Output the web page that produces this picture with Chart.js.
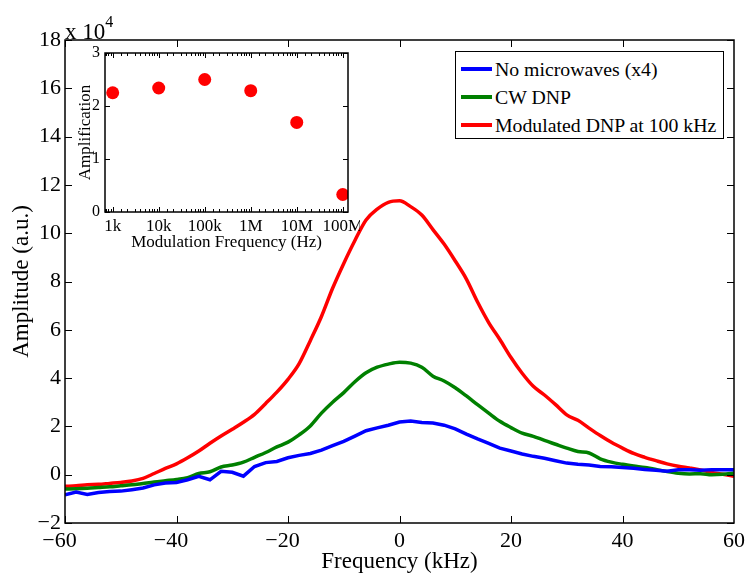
<!DOCTYPE html>
<html>
<head>
<meta charset="utf-8">
<script src="https://cdn.jsdelivr.net/npm/chart.js@4.4.0/dist/chart.umd.min.js"></script>
<style>
  body { margin: 0; background: #fff; }
  #wrap { position: relative; width: 747px; height: 578px; font-family: 'Liberation Serif', serif; }
  #main { position: absolute; left: 0; top: 0; }
  #inset { position: absolute; left: 75px; top: 45px; }
  #scale-note { position: absolute; left: 65px; top: 13px; font-size: 23px; line-height: 23px; color: #000; }
  #scale-note sup { font-size: 16px; position: relative; top: -3px; }
  #legend { position: absolute; left: 455px; top: 51px; width: 267px; height: 86px; border: 1px solid #000; background: #fff; }
  .row { position: absolute; left: 5px; height: 24px; display: flex; align-items: center; font-size: 19.8px; color: #000; white-space: nowrap; }
  .swatch { width: 31px; height: 3.5px; margin-right: 3px; }
</style>
</head>
<body>
<div id="wrap">
  <canvas id="main" width="747" height="578"></canvas>
  <canvas id="inset" width="285" height="210"></canvas>
  <div id="scale-note">x 10<sup>4</sup></div>
  <div id="legend"></div>
</div>
<script>
// main spectrum, amplitude in units of 1e4
const freqKHz = [-60, -58, -56, -54, -52, -50, -48, -46, -44, -42, -40, -38, -36, -34, -32, -30, -28, -26, -24, -22, -20,
  -18, -16, -14, -12, -10, -8, -6, -4, -2, 0, 2, 4, 6, 8, 10, 12, 14, 16, 18, 20,
  22, 24, 26, 28, 30, 32, 34, 36, 38, 40, 42, 44, 46, 48, 50, 52, 54, 56, 58, 60];

const noMicrowaves = [-0.83, -0.72, -0.82, -0.74, -0.70, -0.68, -0.62, -0.55, -0.42, -0.34, -0.32, -0.21, -0.07, -0.21, 0.14, 0.10, -0.06, 0.34, 0.50, 0.55, 0.70,
  0.80, 0.88, 1.02, 1.20, 1.38, 1.60, 1.82, 1.94, 2.05, 2.18, 2.22, 2.16, 2.14, 2.05, 1.90, 1.68, 1.48, 1.30, 1.10, 0.98,
  0.86, 0.76, 0.68, 0.58, 0.48, 0.43, 0.40, 0.34, 0.33, 0.30, 0.27, 0.22, 0.18, 0.14, 0.20, 0.20, 0.18, 0.21, 0.20, 0.21];

const cwDnp = [-0.59, -0.58, -0.56, -0.53, -0.50, -0.46, -0.42, -0.36, -0.30, -0.25, -0.20, -0.12, 0.05, 0.12, 0.32, 0.40, 0.52, 0.72, 0.92, 1.15, 1.35,
  1.65, 2.02, 2.55, 3.00, 3.40, 3.85, 4.22, 4.45, 4.58, 4.66, 4.62, 4.45, 4.08, 3.88, 3.60, 3.26, 2.90, 2.55, 2.21, 1.95,
  1.72, 1.59, 1.42, 1.26, 1.10, 0.96, 0.90, 0.66, 0.52, 0.43, 0.36, 0.30, 0.22, 0.13, 0.06, 0.03, 0.04, 0.00, 0.02, 0.07];

const modulatedDnp = [-0.48, -0.46, -0.42, -0.40, -0.36, -0.32, -0.26, -0.15, 0.05, 0.26, 0.45, 0.70, 0.98, 1.30, 1.60, 1.88, 2.17, 2.50, 2.95, 3.42, 3.95,
  4.60, 5.55, 6.55, 7.72, 8.75, 9.70, 10.55, 11.00, 11.28, 11.34, 11.10, 10.75, 10.15, 9.55, 8.85, 8.10, 7.15, 6.30, 5.60, 4.85,
  4.20, 3.66, 3.30, 2.90, 2.48, 2.25, 1.93, 1.62, 1.34, 1.10, 0.88, 0.72, 0.58, 0.45, 0.35, 0.28, 0.20, 0.09, 0.02, -0.07];

const seriesNames = ['No microwaves (x4)', 'CW DNP', 'Modulated DNP at 100 kHz'];
const seriesColors = ['#0000ff', '#008000', '#ff0000'];

// inset
const modFreqHz = [1e3, 1e4, 1e5, 1e6, 1e7, 1e8];
const modFreqLabels = ['1k', '10k', '100k', '1M', '10M', '100M'];
const amplification = [2.25, 2.34, 2.50, 2.29, 1.69, 0.33];

Chart.defaults.font.family = "'Liberation Serif', serif";
Chart.defaults.color = '#000';

const toMinus = v => (v < 0 ? '\u2212' + Math.abs(v) : String(v));

// no extra label padding, so the plot box sits where the layout says
const noPadY = w => s => { s.width = w; s.paddingTop = 0; s.paddingBottom = 0; };
const noPadX = h => s => { s.height = h; s.paddingLeft = 0; s.paddingRight = 0; };

// draw a black frame round the plot area with inward ticks on all four sides
const boxTicks = {
  id: 'boxTicks',
  afterDraw(chart, args, opts) {
    const { ctx, chartArea: a, scales } = chart;
    ctx.save();
    ctx.strokeStyle = '#000';
    ctx.lineWidth = opts.lineWidth;
    ctx.strokeRect(a.left, a.top, a.right - a.left, a.bottom - a.top);
    ctx.beginPath();
    scales.x.ticks.forEach(t => {
      const px = Math.round(scales.x.getPixelForValue(t.value)) + 0.5;
      const len = opts.isMajorX(t.value) ? opts.major : opts.minor;
      if (px < a.left || px > a.right) return;
      ctx.moveTo(px, a.bottom); ctx.lineTo(px, a.bottom - len);
      ctx.moveTo(px, a.top); ctx.lineTo(px, a.top + len);
    });
    scales.y.ticks.forEach(t => {
      const py = Math.round(scales.y.getPixelForValue(t.value)) + 0.5;
      ctx.moveTo(a.left, py); ctx.lineTo(a.left + opts.major, py);
      ctx.moveTo(a.right, py); ctx.lineTo(a.right - opts.major, py);
    });
    ctx.lineWidth = 1;
    ctx.stroke();
    ctx.restore();
  }
};

const mainChart = new Chart(document.getElementById('main'), {
  type: 'line',
  data: {
    labels: freqKHz,
    datasets: [noMicrowaves, cwDnp, modulatedDnp].map((vals, i) => ({
      label: seriesNames[i],
      data: vals.map((v, j) => ({ x: freqKHz[j], y: v })),
      borderColor: seriesColors[i],
      backgroundColor: seriesColors[i],
      borderWidth: 3.5,
      pointRadius: 0,
      // the two DNP traces are smooth, the unenhanced one stays jagged
      cubicInterpolationMode: i === 0 ? 'default' : 'monotone',
      tension: 0
    }))
  },
  options: {
    responsive: false,
    animation: false,
    devicePixelRatio: 1,
    layout: { padding: { top: 40, right: 13, left: 0, bottom: 0 } },
    plugins: {
      legend: { display: false },
      tooltip: { enabled: false },
      boxTicks: { lineWidth: 1.5, major: 7, minor: 7, isMajorX: () => true }
    },
    scales: {
      x: {
        type: 'linear',
        min: -60, max: 60,
        grid: { display: false, drawTicks: false },
        border: { display: false },
        ticks: {
          stepSize: 20, autoSkip: false, maxRotation: 0, padding: 5,
          font: { size: 22 },
          callback: v => (v < 0 ? toMinus(v) + '\u2002' : String(v))
        },
        title: { display: true, text: 'Frequency (kHz)', font: { size: 23 }, padding: { top: 0, bottom: 2 } },
        afterFit: noPadX(55)
      },
      y: {
        min: -2, max: 18,
        grid: { display: false, drawTicks: false },
        border: { display: false },
        ticks: { stepSize: 2, padding: 4, font: { size: 22 }, callback: v => toMinus(v) },
        title: { display: true, text: 'Amplitude (a.u.)', font: { size: 23 }, padding: { top: 8, bottom: 0 } },
        afterFit: noPadY(65)
      }
    }
  },
  plugins: [boxTicks]
});

const isPow10 = v => {
  const e = Math.log10(v);
  return Math.abs(e - Math.round(e)) < 1e-6;
};

new Chart(document.getElementById('inset'), {
  type: 'scatter',
  data: {
    datasets: [{
      data: modFreqHz.map((f, i) => ({ x: f, y: amplification[i] })),
      backgroundColor: '#ff0000',
      borderColor: '#ff0000',
      pointRadius: 6.5,
      borderWidth: 0
    }]
  },
  options: {
    responsive: false,
    animation: false,
    devicePixelRatio: 1,
    layout: { padding: { top: 8, right: 12, left: 0, bottom: 0 } },
    plugins: {
      legend: { display: false },
      tooltip: { enabled: false },
      boxTicks: { lineWidth: 1.5, major: 5, minor: 3, isMajorX: isPow10 }
    },
    scales: {
      x: {
        type: 'logarithmic',
        min: 680, max: 1.3e8,
        grid: { display: false, drawTicks: false },
        border: { display: false },
        ticks: {
          autoSkip: false, maxRotation: 0, padding: 4,
          font: { size: 17 },
          callback: v => {
            const k = modFreqHz.findIndex(f => Math.abs(f - v) / f < 1e-6);
            return k >= 0 ? modFreqLabels[k] : '';
          }
        },
        title: { display: true, text: 'Modulation Frequency (Hz)', font: { size: 17 }, padding: { top: 0, bottom: 2 } },
        afterFit: noPadX(43)
      },
      y: {
        min: 0, max: 3,
        grid: { display: false, drawTicks: false },
        border: { display: false },
        ticks: { stepSize: 1, padding: 5, font: { size: 16 } },
        title: { display: true, text: 'Amplification', font: { size: 17 }, padding: { top: 0, bottom: 0 } },
        afterFit: noPadY(30)
      }
    }
  },
  plugins: [boxTicks]
});

// legend box built from the main chart's datasets
const legendBox = document.getElementById('legend');
mainChart.data.datasets.forEach((ds, i) => {
  const row = document.createElement('div');
  row.className = 'row';
  row.style.top = (5 + i * 28) + 'px';
  row.innerHTML = `<span class="swatch" style="background:${ds.borderColor}"></span><span>${ds.label}</span>`;
  legendBox.appendChild(row);
});
</script>
</body>
</html>
